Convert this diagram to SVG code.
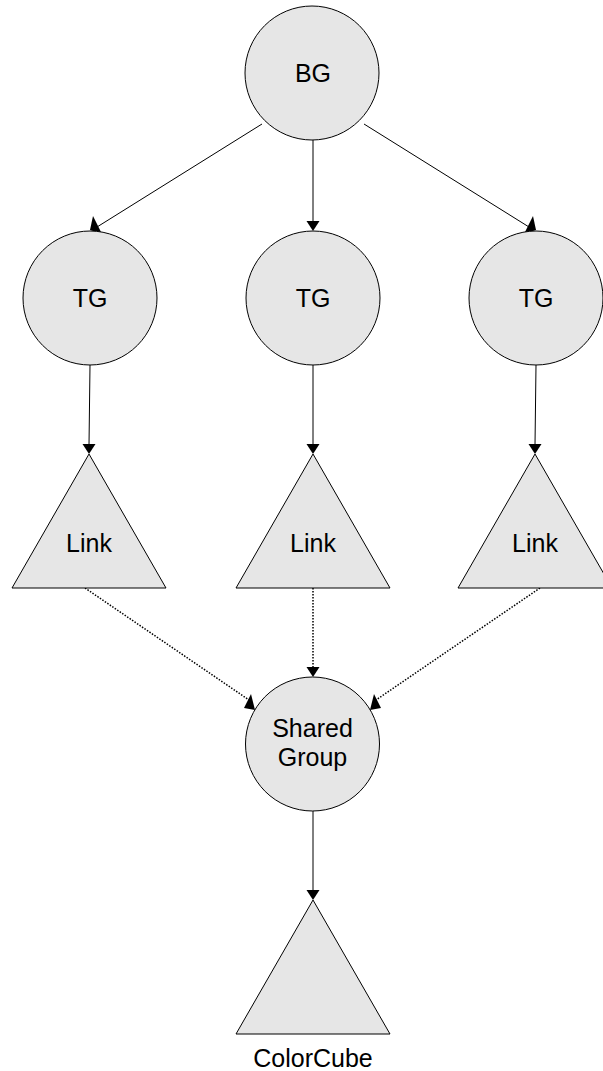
<svg xmlns="http://www.w3.org/2000/svg" width="603" height="1071" viewBox="0 0 603 1071">
<style>
.n{fill:#e6e6e6;stroke:#000;stroke-width:1}
.t{font-family:"Liberation Sans",Arial,sans-serif;font-size:25px;fill:#000;text-anchor:middle}
.e{stroke:#000;stroke-width:1;fill:none}
.d{stroke:#000;stroke-width:1.5;fill:none;stroke-dasharray:1.5 1.5}
.h{fill:#000;stroke:none}
</style>
<rect width="603" height="1071" fill="#fff"/>
<g id="connectors">
<line class="e" x1="262" y1="124" x2="97" y2="227"/>
<polygon class="h" points="93,216 90,230 102,234"/>
<line class="e" x1="313" y1="140" x2="313" y2="222"/>
<polygon class="h" points="313,231 306.5,221 319.5,221"/>
<line class="e" x1="364" y1="124" x2="529" y2="227"/>
<polygon class="h" points="533,216 536,230 524,234"/>
<line class="e" x1="90" y1="365" x2="89" y2="445"/>
<polygon class="h" points="89,454 82.5,444 95.5,444"/>
<line class="e" x1="313" y1="365" x2="313" y2="445"/>
<polygon class="h" points="313,454 306.5,444 319.5,444"/>
<line class="e" x1="536" y1="365" x2="535" y2="445"/>
<polygon class="h" points="535,454 528.5,444 541.5,444"/>
<line class="d" x1="85" y1="588" x2="249" y2="700"/>
<polygon class="h" points="251,694 244,708 255,710"/>
<line class="d" x1="313" y1="588" x2="313" y2="668"/>
<polygon class="h" points="313,677 306.5,667 319.5,667"/>
<line class="d" x1="540" y1="588" x2="376" y2="700"/>
<polygon class="h" points="374,694 381,708 370,710"/>
<line class="e" x1="313" y1="811" x2="313" y2="891"/>
<polygon class="h" points="313,900 306.5,890 319.5,890"/>
</g>
<g id="bg"><circle class="n" cx="312" cy="73" r="67"/><text class="t" x="313" y="82">BG</text></g>
<g id="tg1"><circle class="n" cx="90" cy="298" r="67"/><text class="t" x="90" y="307">TG</text></g>
<g id="tg2"><circle class="n" cx="313" cy="298" r="67"/><text class="t" x="313" y="307">TG</text></g>
<g id="tg3"><circle class="n" cx="536" cy="298" r="67"/><text class="t" x="536" y="307">TG</text></g>
<g id="link1"><polygon class="n" points="89,454 166,588 12,588"/><text class="t" x="89" y="552">Link</text></g>
<g id="link2"><polygon class="n" points="313,454 390,588 236,588"/><text class="t" x="313" y="552">Link</text></g>
<g id="link3"><polygon class="n" points="535,454 612,588 458,588"/><text class="t" x="535" y="552">Link</text></g>
<g id="shared"><circle class="n" cx="312.5" cy="744" r="67"/><text class="t" x="312.5" y="737">Shared</text><text class="t" x="312.5" y="766">Group</text></g>
<g id="colorcube"><polygon class="n" points="313,900 390,1034 236,1034"/><text class="t" x="313" y="1067">ColorCube</text></g>
</svg>
